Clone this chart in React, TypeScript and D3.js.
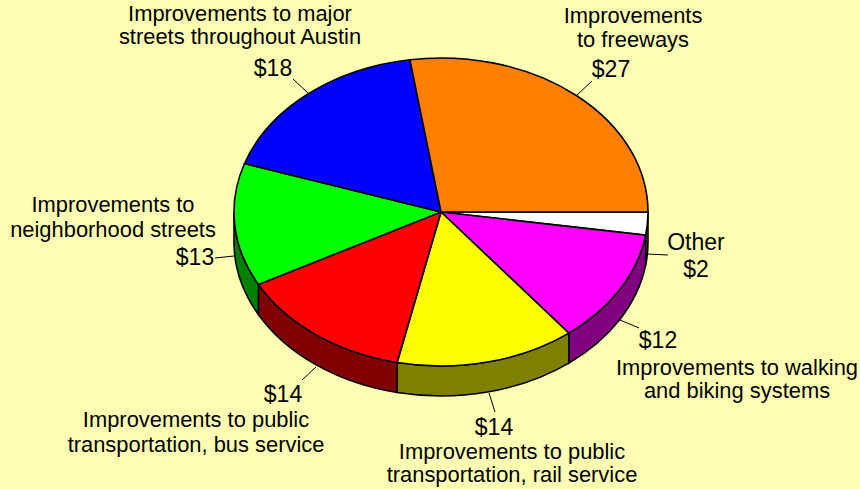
import React from "react";
import * as d3 from "d3";

const categories = ["Other", "Walking", "Rail", "Bus", "Neighborhood", "Major", "Freeways"];
// the printed labels are these rounded
const values = [2.4, 12, 14, 13.8, 12.9, 17.5, 27.4];
const topColors = ["#ffffff", "#ff00ff", "#ffff00", "#ff0000", "#00ff00", "#0000ff", "#ff8000"];
const sideColors = ["#808080", "#800080", "#808000", "#800000", "#008000", "#000080", "#804000"];

const money = d3.format("$.0f");

// text blocks per slice, in draw order. big = the larger text size
const labels = [
  { lines: ["Other", money(values[0])], x: [696, 696], y: [250, 277], big: [true, true] },
  { lines: [money(values[1]), "Improvements to walking", "and biking systems"], x: [658, 737, 737], y: [348, 375, 398], big: [true, false, false] },
  { lines: [money(values[2]), "Improvements to public", "transportation, rail service"], x: [494, 512, 512], y: [435, 459, 482], big: [true, false, false] },
  { lines: [money(values[3]), "Improvements to public", "transportation, bus service"], x: [283, 196, 196], y: [402, 427, 452], big: [true, false, false] },
  { lines: ["Improvements to", "neighborhood streets", money(values[4])], x: [113, 113, 195], y: [212, 237, 265], big: [false, false, true] },
  { lines: ["Improvements to major", "streets throughout Austin", money(values[5])], x: [240, 240, 273], y: [21, 44, 76], big: [false, false, true] },
  { lines: ["Improvements", "to freeways", money(values[6])], x: [633, 633, 611], y: [23, 47, 77], big: [false, false, true] }
];
const leaders = [
  [[647, 254], [668, 255]],
  [[620, 320], [639, 328]],
  [[489, 393], [495, 412]],
  [[316, 367], [302, 380]],
  [[234, 256], [215, 258]],
  [[309, 94], [293, 79]],
  [[577, 95], [592, 81]]
];

const width = 860;
const height = 489;
const cx = 441;
const cy = 212;
const rx = 207;
const ry = 154;
const depth = 30;

const pie = d3.pie<number>().sort(null).startAngle(Math.PI / 2).endAngle(Math.PI / 2 + 2 * Math.PI);
const arcs = pie(values);

const arc = d3.arc<d3.PieArcDatum<number>>().innerRadius(0).outerRadius(rx);

const px = (a: number) => cx + rx * Math.sin(a);
const py = (a: number) => cy - ry * Math.cos(a);

// outer wall of a slice, only the part facing the viewer
function wall(a0: number, a1: number) {
  const s = Math.max(a0, Math.PI / 2);
  const e = Math.min(a1, (3 * Math.PI) / 2);
  if (e <= s) return null;
  return `M${px(s)},${py(s)}A${rx},${ry} 0 0 1 ${px(e)},${py(e)}L${px(e)},${py(e) + depth}A${rx},${ry} 0 0 0 ${px(s)},${py(s) + depth}Z`;
}

export default function App() {
  return (
    <svg
      width={width}
      height={height}
      style={{ position: "absolute", left: 0, top: 0, background: "#ffffb3" }}
      fontFamily="'Liberation Sans', Arial, sans-serif"
    >
      {leaders.map((l, i) => (
        <line key={i} x1={l[0][0]} y1={l[0][1]} x2={l[1][0]} y2={l[1][1]} stroke="#000" strokeWidth={1} />
      ))}
      {arcs.map((d, i) => {
        const p = wall(d.startAngle, d.endAngle);
        return p ? <path key={categories[i]} d={p} fill={sideColors[i]} stroke="#000" strokeWidth={1.6} /> : null;
      })}
      <g transform={`translate(${cx},${cy}) scale(1,${ry / rx})`}>
        {arcs.map((d, i) => (
          <path
            key={categories[i]}
            d={arc(d) as string}
            fill={topColors[i]}
            stroke="#000"
            strokeWidth={1.6}
            vectorEffect="non-scaling-stroke"
          />
        ))}
      </g>
      {labels.map((b, i) => (
        <g key={i} textAnchor="middle" fill="#000">
          {b.lines.map((t, j) => (
            <text key={j} x={b.x[j]} y={b.y[j]} fontSize={b.big[j] ? 23 : 21.9}>
              {t}
            </text>
          ))}
        </g>
      ))}
    </svg>
  );
}
